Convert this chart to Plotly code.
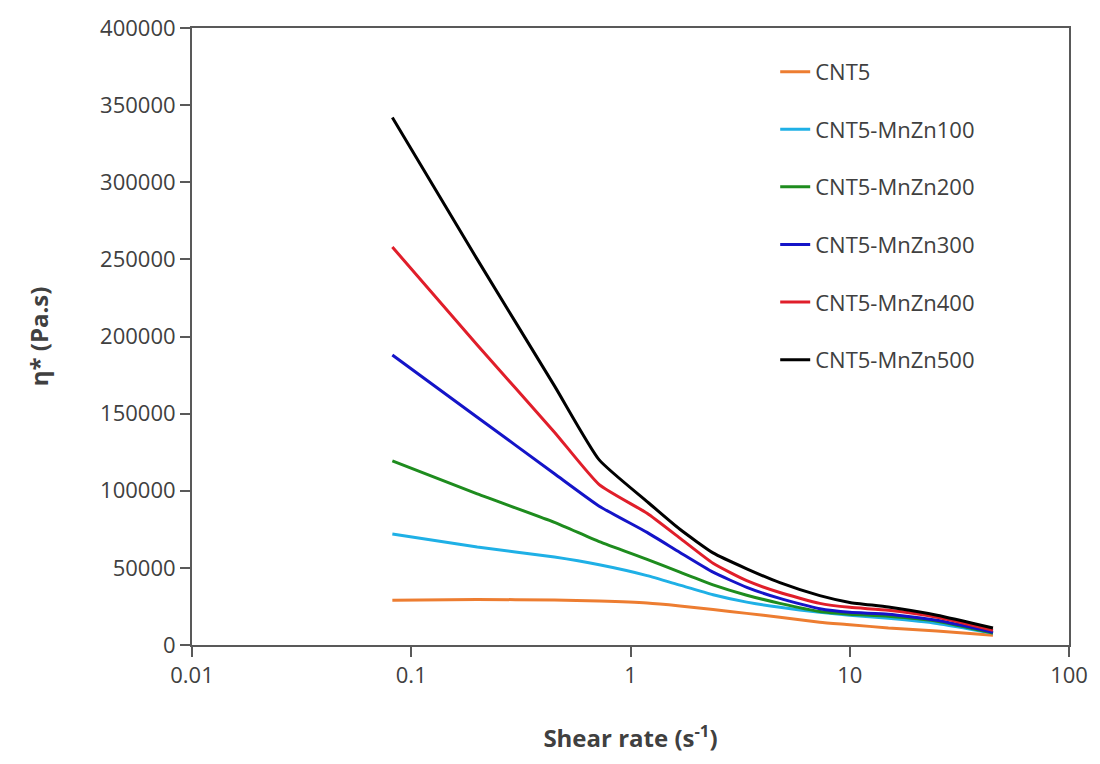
import plotly.graph_objects as go

shear_rate = [0.082, 0.2, 0.45, 0.72, 1.19, 1.68, 2.38, 3.39, 4.8, 7.3, 10, 15, 25, 45]

cnt5 = [29000, 29500, 29200, 28500, 27200, 25300, 23000, 20500, 18000, 14800, 13200, 11000, 9000, 6400]
mnzn100 = [72000, 63500, 57000, 52000, 45000, 38800, 32600, 27800, 24400, 21200, 19300, 17300, 14000, 7700]
mnzn200 = [119400, 98000, 79500, 67000, 55500, 47200, 39000, 32300, 27000, 21700, 20000, 18600, 15400, 7700]
mnzn300 = [188000, 147700, 111000, 90000, 73000, 60000, 47200, 37400, 30200, 23500, 21200, 20000, 16000, 8300]
mnzn400 = [258000, 194500, 138000, 104000, 85400, 69300, 53000, 41700, 34000, 27000, 24400, 22500, 18000, 9600]
mnzn500 = [342000, 250000, 168000, 120000, 93000, 75000, 59700, 49400, 40400, 32000, 27600, 24600, 19300, 11000]

series_names = ["CNT5", "CNT5-MnZn100", "CNT5-MnZn200", "CNT5-MnZn300", "CNT5-MnZn400", "CNT5-MnZn500"]
series_values = [cnt5, mnzn100, mnzn200, mnzn300, mnzn400, mnzn500]
colors = ["#ED7D31", "#1FB0E6", "#1E8C1E", "#1414C8", "#E01E2A", "#000000"]

x_tickvals = [0.01, 0.1, 1, 10, 100]
x_ticktext = ["0.01", "0.1", "1", "10", "100"]
y_tickvals = [0, 50000, 100000, 150000, 200000, 250000, 300000, 350000, 400000]
y_ticktext = [str(v) for v in y_tickvals]

FONT = "Open Sans"
fig = go.Figure()
for i, (name, vals, col) in enumerate(zip(series_names, series_values, colors)):
    fig.add_trace(go.Scatter(
        x=shear_rate, y=vals, name=name, mode="lines",
        line=dict(color=col, width=3, shape="spline", smoothing=0.5),
        legendgroup=f"g{i}",
    ))

axis_common = dict(
    showline=True, linecolor="#595959", linewidth=2, mirror=True,
    ticks="outside", ticklen=10, tickcolor="#595959", tickwidth=2,
    showgrid=False, zeroline=False,
    tickfont=dict(family=FONT, size=22, color="#404040"),
)

fig.update_layout(
    width=1100, height=764,
    margin=dict(l=192, r=31, t=22, b=119),
    paper_bgcolor="white", plot_bgcolor="white",
    xaxis=dict(type="log", range=[-2, 2], tickvals=x_tickvals, ticktext=x_ticktext,
               title=dict(text="<b>Shear rate (s<sup>-1</sup>)</b>", font=dict(family=FONT, size=24, color="#404040"), standoff=42),
               **axis_common),
    yaxis=dict(range=[0, 400000], tickvals=y_tickvals, ticktext=y_ticktext,
               title=dict(text="<b>η* (Pa.s)</b>", font=dict(family=FONT, size=24, color="#404040"), standoff=45),
               **axis_common),
    legend=dict(x=0.665, y=0.963, xanchor="left", yanchor="top",
                font=dict(family=FONT, size=22, color="#404040"),
                bgcolor="rgba(0,0,0,0)", tracegroupgap=26, itemwidth=30),
    showlegend=True,
)

fig.write_html("out.html")
